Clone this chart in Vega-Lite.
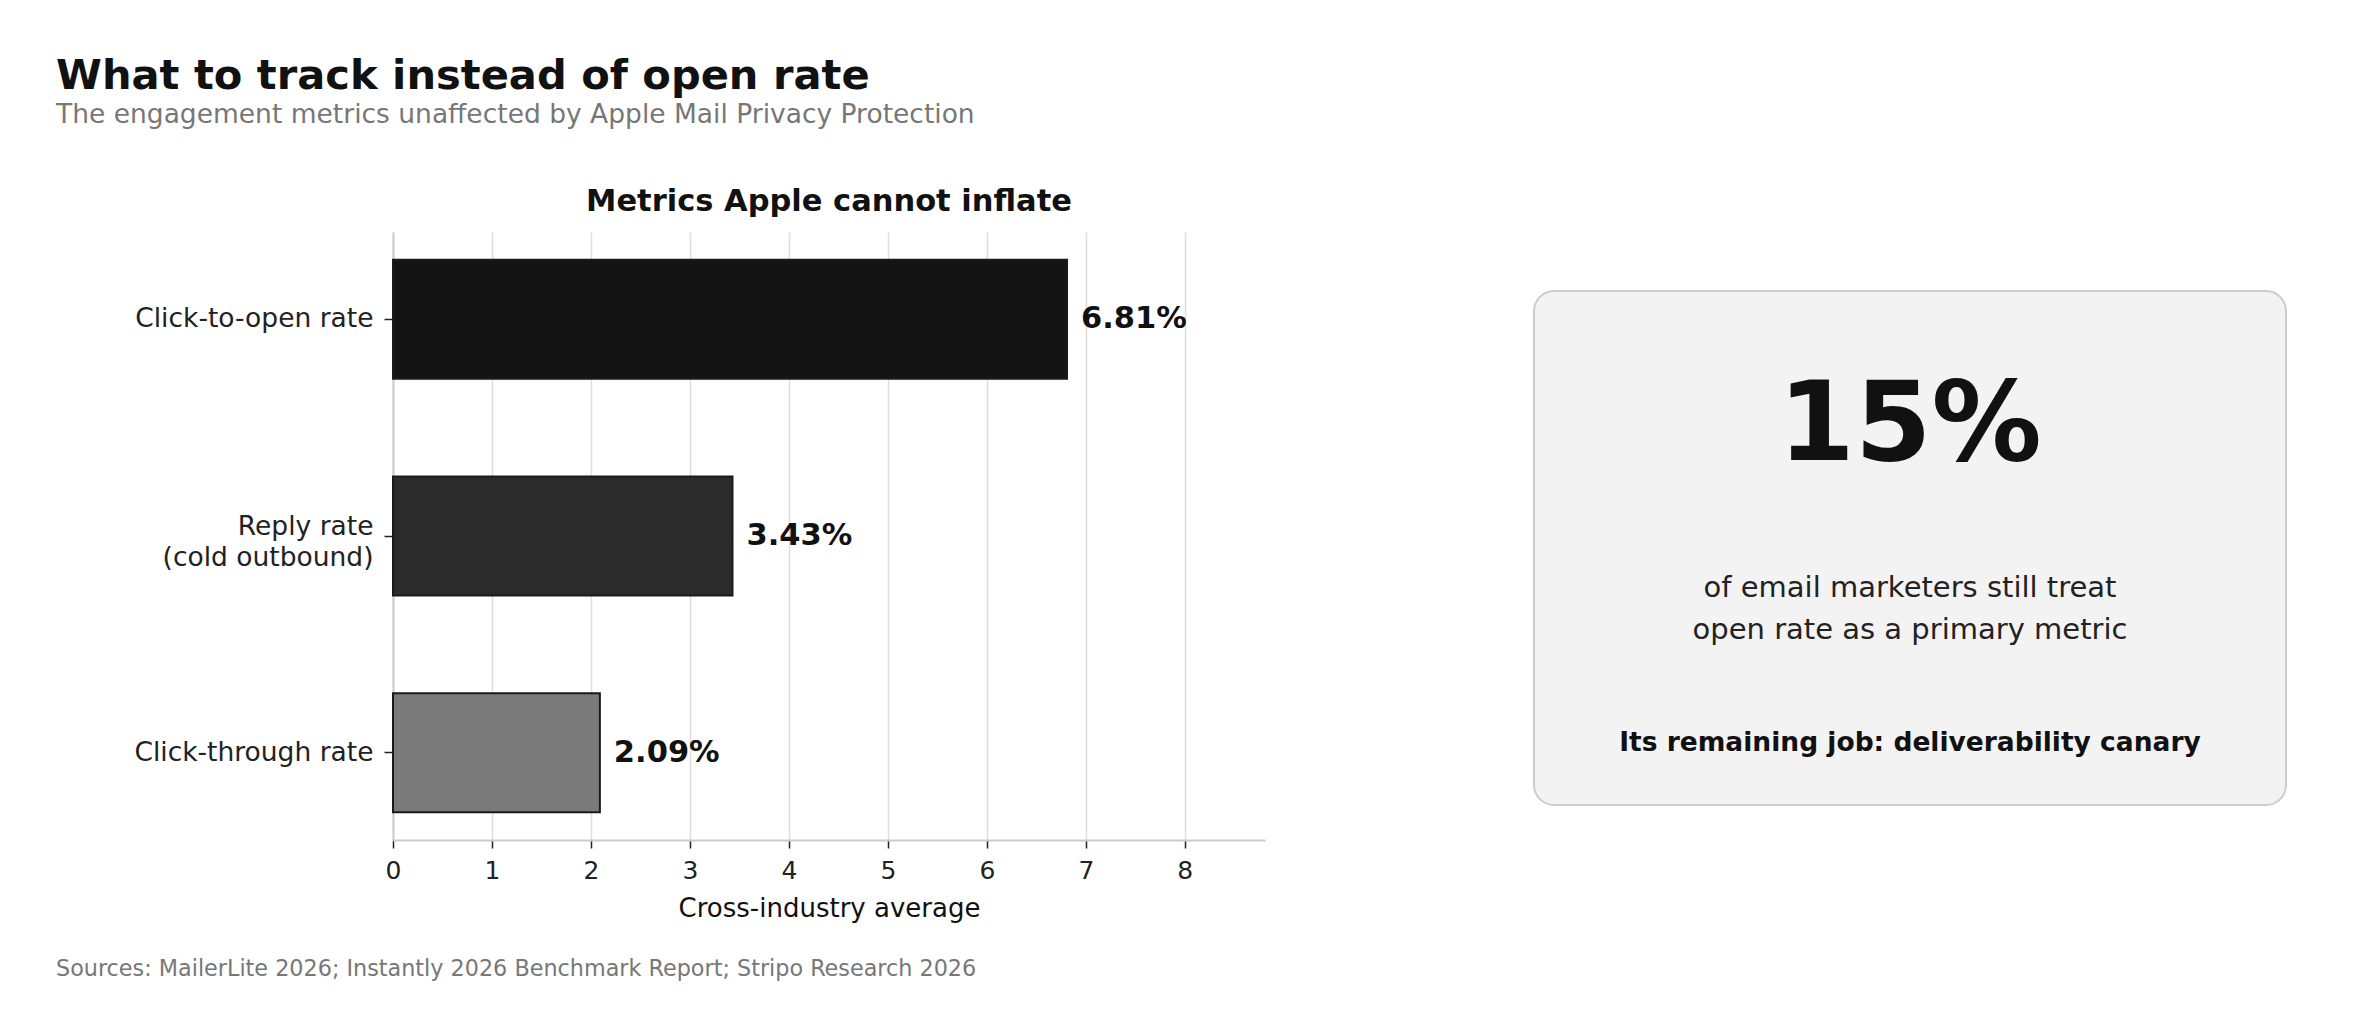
{
  "$schema": "https://vega.github.io/schema/vega-lite/v6.json",
  "description": "What to track instead of open rate",
  "background": "white",
  "padding": {"left": 56, "top": 56, "right": 60, "bottom": 40},
  "config": {"font": "DejaVu Sans", "view": {"stroke": null}},
  "title": {
    "text": "What to track instead of open rate",
    "subtitle": "The engagement metrics unaffected by Apple Mail Privacy Protection",
    "anchor": "start",
    "frame": "group",
    "dx": -337,
    "fontSize": 41.6,
    "fontWeight": "bold",
    "color": "#111111",
    "subtitleFontSize": 26.5,
    "subtitleColor": "#777777",
    "subtitlePadding": 4,
    "offset": 58
  },
  "bounds": "flush",
  "spacing": 269,
  "hconcat": [
    {
      "width": 872,
      "height": 608,
      "title": {
        "text": "Metrics Apple cannot inflate",
        "fontSize": 30.5,
        "fontWeight": "bold",
        "color": "#111111",
        "anchor": "middle",
        "frame": "group",
        "baseline": "alphabetic",
        "offset": -9
      },
      "data": {
        "values": [
          {"metric": "Click-to-open rate", "value": 6.81},
          {"metric": "Reply rate|(cold outbound)", "value": 3.43},
          {"metric": "Click-through rate", "value": 2.09}
        ]
      },
      "encoding": {
        "y": {
          "field": "metric",
          "type": "nominal",
          "sort": null,
          "scale": {"paddingInner": 0.45, "paddingOuter": 0.1275},
          "axis": {
            "title": null,
            "labelExpr": "split(datum.label, '|')",
            "labelFontSize": 26.5,
            "labelColor": "#222222",
            "labelLineHeight": 31,
            "labelOffset": {"condition": {"test": "indexof(datum.value, '|') >= 0", "value": -9}, "value": 0},
            "labelPadding": 11,
            "labelLimit": 0,
            "tickSize": 9,
            "tickColor": "#222222",
            "tickWidth": 1.5,
            "domainColor": "#cccccc",
            "domainWidth": 2,
            "grid": false
          }
        },
        "x": {
          "field": "value",
          "type": "quantitative",
          "scale": {"domain": [0, 8.81], "nice": false},
          "axis": {
            "title": "Cross-industry average",
            "values": [0, 1, 2, 3, 4, 5, 6, 7, 8],
            "grid": true,
            "gridColor": "#dddddd",
            "gridWidth": 1.5,
            "domainColor": "#cccccc",
            "domainWidth": 2,
            "tickColor": "#222222",
            "tickWidth": 1.5,
            "tickSize": 8,
            "labelFontSize": 25,
            "labelColor": "#222222",
            "labelPadding": 10,
            "labelFlush": false,
            "titleFontSize": 26,
            "titleFontWeight": "normal",
            "titleColor": "#111111",
            "titlePadding": 12
          }
        }
      },
      "layer": [
        {
          "mark": {"type": "bar", "stroke": "#1a1a1a", "strokeWidth": 2},
          "encoding": {
            "color": {
              "field": "metric",
              "type": "nominal",
              "scale": {
                "domain": ["Click-to-open rate", "Reply rate|(cold outbound)", "Click-through rate"],
                "range": ["#141414", "#2b2b2b", "#7a7a7a"]
              },
              "legend": null
            }
          }
        },
        {
          "mark": {
            "type": "text",
            "align": "left",
            "baseline": "middle",
            "dx": 14,
            "fontSize": 30.5,
            "fontWeight": "bold",
            "color": "#111111",
            "text": {"expr": "format(datum.value, '.2f') + '%'"}
          }
        }
      ]
    },
    {
      "width": 752,
      "height": 608,
      "title": {
        "text": "Sources: MailerLite 2026; Instantly 2026 Benchmark Report; Stripo Research 2026",
        "orient": "bottom",
        "anchor": "start",
        "frame": "group",
        "dx": -1478,
        "offset": 136,
        "baseline": "alphabetic",
        "fontSize": 22.3,
        "fontWeight": "normal",
        "color": "#777777"
      },
      "data": {
        "values": [
          {
            "stat": "15%",
            "note": "of email marketers still treat\nopen rate as a primary metric",
            "job": "Its remaining job: deliverability canary"
          }
        ]
      },
      "layer": [
        {
          "mark": {"type": "rect", "fill": "#f3f3f3", "stroke": "#cccccc", "strokeWidth": 2, "cornerRadius": 20},
          "encoding": {
            "x": {"datum": 0, "type": "quantitative", "scale": {"domain": [0, 1], "nice": false, "zero": false}, "axis": null},
            "x2": {"datum": 1},
            "y": {"datum": 0.097, "type": "quantitative", "scale": {"domain": [0, 1], "nice": false, "zero": false, "reverse": true}, "axis": null},
            "y2": {"datum": 0.9424}
          }
        },
        {
          "mark": {"type": "text", "fontSize": 110, "fontWeight": "bold", "color": "#111111", "align": "center", "baseline": "alphabetic"},
          "encoding": {
            "text": {"field": "stat"},
            "x": {"datum": 0.5, "type": "quantitative", "axis": null},
            "y": {"datum": 0.375, "type": "quantitative", "axis": null}
          }
        },
        {
          "mark": {"type": "text", "fontSize": 29, "color": "#222222", "align": "center", "baseline": "alphabetic", "lineBreak": "\n", "lineHeight": 42},
          "encoding": {
            "text": {"field": "note"},
            "x": {"datum": 0.5, "type": "quantitative", "axis": null},
            "y": {"datum": 0.6003, "type": "quantitative", "axis": null}
          }
        },
        {
          "mark": {"type": "text", "fontSize": 26.5, "fontWeight": "bold", "color": "#111111", "align": "center", "baseline": "alphabetic"},
          "encoding": {
            "text": {"field": "job"},
            "x": {"datum": 0.5, "type": "quantitative", "axis": null},
            "y": {"datum": 0.8536, "type": "quantitative", "axis": null}
          }
        }
      ]
    }
  ]
}
